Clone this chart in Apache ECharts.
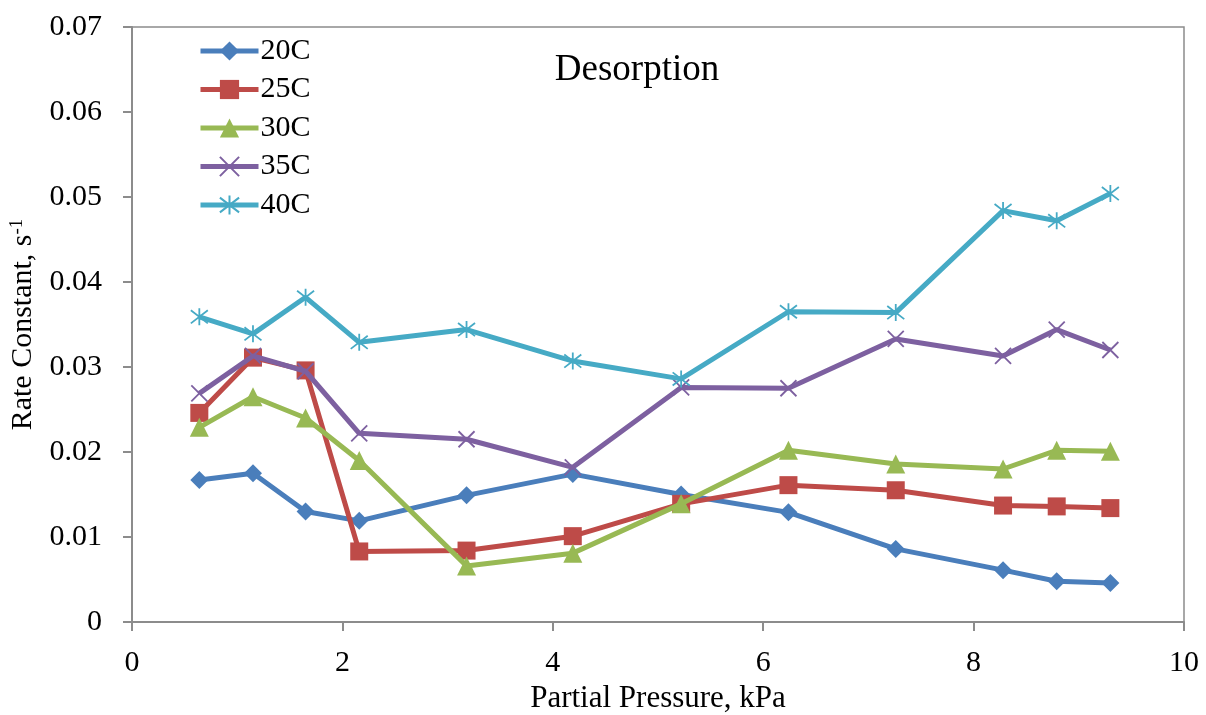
<!DOCTYPE html>
<html><head><meta charset="utf-8">
<script src="https://cdn.jsdelivr.net/npm/echarts@6/dist/echarts.min.js"></script>
<style>html,body{margin:0;padding:0;background:#fff}#c{width:1206px;height:715px}</style>
</head><body><div id="c"></div>
<script>
const pressure = [0.64, 1.15, 1.65, 2.16, 3.18, 4.19, 5.22, 6.24, 7.26, 8.28, 8.79, 9.30];
const seriesNames = ['20C', '25C', '30C', '35C', '40C'];
const k20 = [0.0167, 0.0175, 0.0130, 0.0119, 0.0149, 0.0174, 0.0150, 0.0129, 0.0086, 0.0061, 0.0048, 0.0046];
const k25 = [0.0246, 0.0311, 0.0296, 0.0083, 0.0084, 0.0101, 0.0139, 0.0161, 0.0155, 0.0137, 0.0136, 0.0134];
const k30 = [0.0229, 0.0265, 0.0240, 0.0190, 0.0066, 0.0081, 0.0139, 0.0202, 0.0186, 0.0180, 0.0202, 0.0201];
const k35 = [0.0269, 0.0313, 0.0295, 0.0222, 0.0215, 0.0182, 0.0276, 0.0275, 0.0333, 0.0313, 0.0344, 0.0320];
const k40 = [0.0359, 0.0339, 0.0382, 0.0329, 0.0344, 0.0307, 0.0286, 0.0365, 0.0364, 0.0484, 0.0472, 0.0504];
const colors = ['#4A7EBB', '#BE4B48', '#98B954', '#7D60A0', '#46AAC5'];
const allValues = [k20, k25, k30, k35, k40];

const symbols = [
  'diamond',
  'rect',
  'triangle',
  'path://M0,0L10,10M10,0L0,10',
  'path://M0,0L10,10M10,0L0,10M5,-1.5L5,11.5'
];
const symbolSizes = [18, 18, 19, 16, 17];

const font = '"Liberation Serif", "Times New Roman", serif';
const chart = echarts.init(document.getElementById('c'));
chart.setOption({
  animation: false,
  backgroundColor: '#fff',
  textStyle: { fontFamily: font },
  title: {
    text: 'Desorption', left: 632, top: 47, textAlign: 'center',
    textStyle: { fontFamily: font, fontSize: 37, fontWeight: 'normal', color: '#000' }
  },
  legend: {
    orient: 'vertical', left: 193, top: 31, itemWidth: 58, itemHeight: 24, itemGap: 8.5,
    lineStyle: { width: 5 },
    textStyle: { fontFamily: font, fontSize: 30, color: '#000', padding: [0, 0, 0, -3] },
    data: seriesNames
  },
  grid: {
    left: 132, right: 22, top: 27, bottom: 93, show: true,
    outerBoundsMode: 'none', containLabel: false,
    borderColor: '#8c8c8c', borderWidth: 1.5
  },
  xAxis: {
    type: 'value', min: 0, max: 10, interval: 2,
    name: 'Partial Pressure, kPa', nameLocation: 'middle', nameGap: 58,
    nameTextStyle: { fontFamily: font, fontSize: 31, color: '#000' },
    axisLine: { lineStyle: { color: '#8c8c8c', width: 2 } },
    axisTick: { show: true, inside: false, length: 9, lineStyle: { color: '#8c8c8c', width: 2 } },
    axisLabel: { fontFamily: font, fontSize: 30, color: '#000', margin: 26 },
    splitLine: { show: false }
  },
  yAxis: {
    type: 'value', min: 0, max: 0.07, interval: 0.01,
    name: '{a|Rate Constant, s}{b|-1}', nameLocation: 'middle', nameGap: 94,
    nameTextStyle: { fontFamily: font, fontSize: 30, color: '#000',
      rich: { a: { fontFamily: font, fontSize: 30, color: '#000' },
              b: { fontFamily: font, fontSize: 19, color: '#000', verticalAlign: 'top', padding: [0, 0, 10, 0] } } },
    axisLine: { show: true, lineStyle: { color: '#8c8c8c', width: 2 } },
    axisTick: { show: true, inside: false, length: 9, lineStyle: { color: '#8c8c8c', width: 2 } },
    axisLabel: { fontFamily: font, fontSize: 30, color: '#000', margin: 30,
      formatter: v => v === 0 ? '0' : v.toFixed(2) },
    splitLine: { show: false }
  },
  series: seriesNames.map((n, i) => ({
    name: n, type: 'line',
    data: pressure.map((x, j) => [x, allValues[i][j]]),
    symbol: symbols[i], symbolSize: symbolSizes[i],
    lineStyle: { color: colors[i], width: 5 },
    itemStyle: i >= 3 ? { color: colors[i], borderColor: colors[i], borderWidth: 1.8 } : { color: colors[i], borderWidth: 0 },
    z: 2 + i
  }))
});
</script></body></html>
